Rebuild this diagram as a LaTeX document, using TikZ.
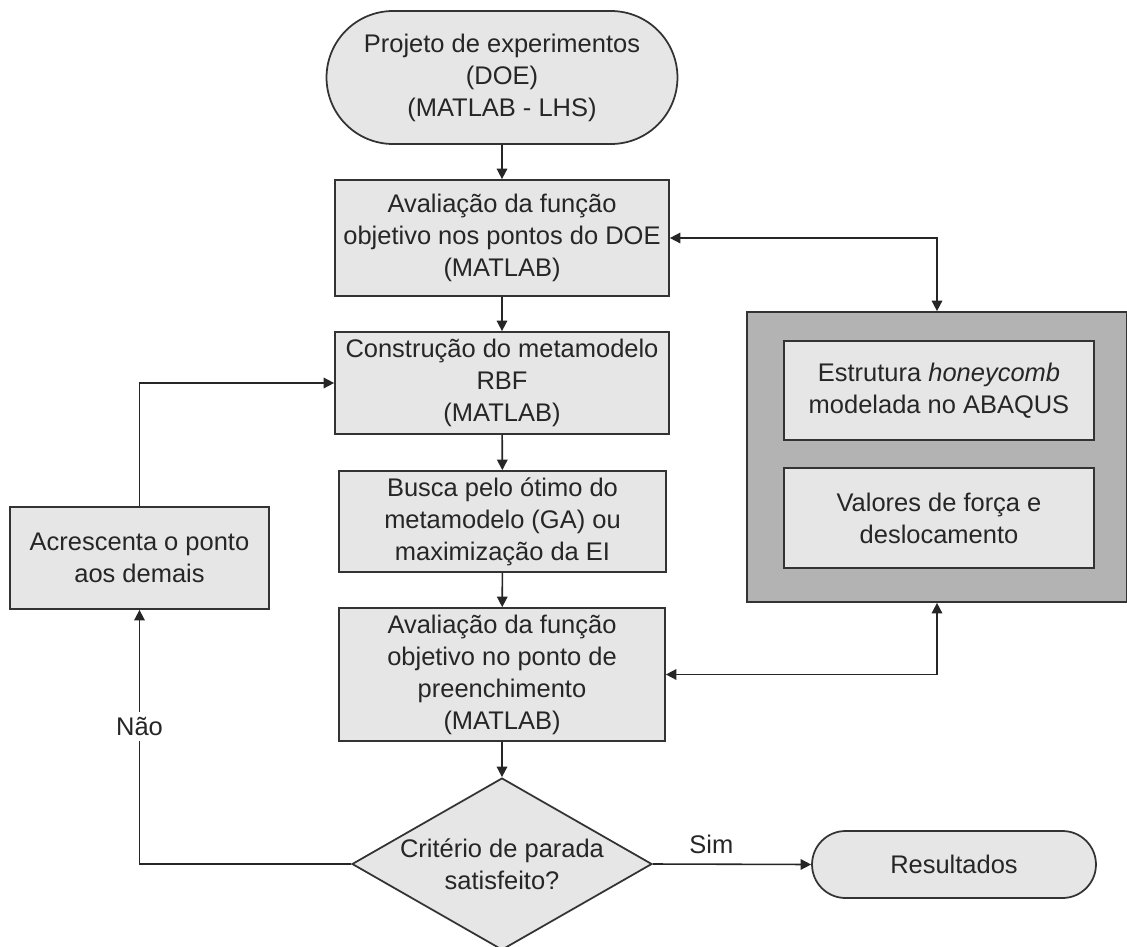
\documentclass[tikz,border=0pt]{standalone}
\usepackage{fontspec}
\setmainfont{Liberation Sans}
\usetikzlibrary{shapes.geometric,shapes.misc,arrows.meta}

\definecolor{boxfill}{HTML}{E6E6E6}
\definecolor{groupfill}{HTML}{B3B3B3}
\definecolor{edgegray}{HTML}{333333}

\begin{document}
\begin{tikzpicture}[x=0.02cm, y=-0.02cm,
    every node/.style={font=\fontsize{14.5}{18.2}\selectfont, align=center, text=black!85},
    proc/.style={draw=edgegray, line width=1pt, fill=boxfill, inner sep=0pt},
    terminal/.style={proc, rounded rectangle},
    decision/.style={proc, diamond, aspect=1.744},
    group/.style={draw=edgegray, line width=1pt, fill=groupfill, inner sep=0pt},
    flow/.style={-{Triangle[length=6pt,width=6pt]}, line width=0.9pt, draw=black!85},
    twoway/.style={{Triangle[length=6pt,width=6pt]}-{Triangle[length=6pt,width=6pt]}, line width=0.9pt, draw=black!85}]
    \useasboundingbox (0,0) rectangle (1127,947);

    % main column
    \node[terminal, minimum width=7.02cm, minimum height=2.66cm] (doe) at (502,77.5) {Projeto de experimentos\\(DOE)\\(MATLAB - LHS)};
    \node[proc, minimum width=6.68cm, minimum height=2.32cm] (avaldoe) at (502,238) {Avaliação da função\\objetivo nos pontos do DOE\\(MATLAB)};
    \node[proc, minimum width=6.68cm, minimum height=2.04cm] (rbf) at (502,383) {Construção do metamodelo\\RBF\\(MATLAB)};
    \node[proc, minimum width=6.54cm, minimum height=2.02cm] (busca) at (502.5,521.5) {Busca pelo ótimo do\\metamodelo (GA) ou\\maximização da EI};
    \node[proc, minimum width=6.52cm, minimum height=2.66cm] (avalpto) at (502,674.5) {Avaliação da função\\objetivo no ponto de\\preenchimento\\(MATLAB)};
    \node[decision, minimum width=6cm, minimum height=3.44cm] (parada) at (502,864) {Critério de parada\\satisfeito?};
    \node[terminal, minimum width=5.68cm, minimum height=1.34cm] (result) at (954,864.5) {Resultados};
    \node[proc, minimum width=5.18cm, minimum height=2.04cm] (acresc) at (139.5,558) {Acrescenta o ponto\\aos demais};

    % ABAQUS block
    \node[group, minimum width=7.6cm, minimum height=5.8cm] (abaqus) at (937,457) {};
    \node[proc, minimum width=6.2cm, minimum height=1.98cm] (honey) at (939,390.5) {Estrutura \textit{honeycomb}\\modelada no ABAQUS};
    \node[proc, minimum width=6.2cm, minimum height=2cm] (forca) at (939,518) {Valores de força e\\deslocamento};

    % connectors
    \draw[flow] (doe) -- (avaldoe);
    \draw[flow] (avaldoe) -- (rbf);
    \draw[flow] (rbf) -- (busca);
    \draw[flow] (busca) -- (avalpto);
    \draw[flow] (avalpto) -- (parada);
    \draw[flow] (parada.east) -- (result.west) node[pos=0.37, above=2pt] {Sim};
    \draw[flow] (parada.west) -| (acresc.south) node[pos=0.77, fill=white, inner sep=3pt] {Não};
    \draw[flow] (acresc.north) |- (rbf.west);
    \draw[twoway] (avaldoe.east) -| (abaqus.north);
    \draw[twoway] (avalpto.east) -| (abaqus.south);
\end{tikzpicture}
\end{document}
